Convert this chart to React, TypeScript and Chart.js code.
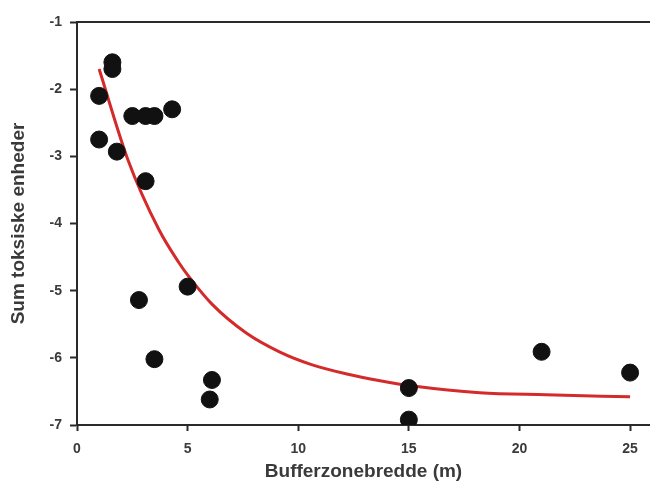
import React, { useEffect, useRef } from "react";
import { Chart, registerables } from "chart.js";

Chart.register(...registerables);

// Observed data: buffer zone width (m) vs. sum of toxic units
const pointX = [1, 1, 1.6, 1.6, 1.8, 2.5, 3.1, 3.5, 4.3, 3.1, 2.8, 5.0, 3.5, 6.1, 6.0, 15, 15, 21, 25];
const pointY = [-2.1, -2.75, -1.6, -1.7, -2.93, -2.4, -2.4, -2.4, -2.3, -3.37, -5.14, -4.94, -6.02, -6.33, -6.62, -6.45, -6.92, -5.91, -6.22];

// Fitted curve
const curveX = [1, 2.3, 3.7, 4.6, 5.1, 6.1, 7.65, 9.15, 10.6, 12.2, 13.7, 15.2, 18.2, 21.2, 25];
const curveY = [-1.7, -3.05, -4.09, -4.58, -4.81, -5.2, -5.63, -5.91, -6.1, -6.24, -6.34, -6.42, -6.52, -6.55, -6.58];

const xTicks = [0, 5, 10, 15, 20, 25];
const yTicks = [-7, -6, -5, -4, -3, -2, -1];

const xTitle = "Bufferzonebredde (m)";
const yTitle = "Sum toksiske enheder";

const axisColor = "#2a2a2a";
const textColor = "#3a3a3a";
const fontFamily = "'Liberation Sans', Arial, sans-serif";

const topBorder = {
  id: "topBorder",
  afterDraw(chart: any) {
    const { ctx, chartArea } = chart;
    ctx.save();
    ctx.strokeStyle = axisColor;
    ctx.lineWidth = 2;
    ctx.beginPath();
    ctx.moveTo(chartArea.left - 1, chartArea.top);
    ctx.lineTo(chartArea.right, chartArea.top);
    ctx.stroke();
    ctx.restore();
  },
};

export default function App() {
  const ref = useRef<HTMLCanvasElement>(null);
  useEffect(() => {
    if (!ref.current) return;
    const chart = new Chart(ref.current, {
      type: "scatter",
      data: {
        datasets: [
          {
            type: "line",
            data: curveX.map((x, i) => ({ x, y: curveY[i] })),
            borderColor: "#d42a2a",
            borderWidth: 3,
            pointRadius: 0,
            cubicInterpolationMode: "monotone",
            fill: false,
            order: 2,
          } as any,
          {
            data: pointX.map((x, i) => ({ x, y: pointY[i] })),
            backgroundColor: "#111111",
            borderColor: "#111111",
            pointRadius: 8.5,
            pointHoverRadius: 8.5,
            order: 1,
          },
        ],
      },
      options: {
        responsive: false,
        animation: false,
        layout: { autoPadding: false, padding: { top: 22, right: 0, left: 0, bottom: 0 } },
        plugins: { legend: { display: false }, tooltip: { enabled: false } },
        scales: {
          x: {
            type: "linear",
            min: 0,
            max: 25.9,
            afterBuildTicks: (s: any) => {
              s.ticks = xTicks.map((v) => ({ value: v }));
            },
            afterFit: (s: any) => {
              s.height = 58;
              s.paddingRight = 0;
              s.paddingLeft = 0;
            },
            ticks: {
              color: textColor,
              font: { family: fontFamily, size: 14, weight: "bold" },
              padding: 10,
              maxRotation: 0,
            },
            grid: {
              drawOnChartArea: false,
              tickLength: 6,
              tickWidth: 2,
              tickColor: axisColor,
            },
            border: { color: axisColor, width: 2 },
            title: {
              display: true,
              text: xTitle,
              color: textColor,
              font: { family: fontFamily, size: 19, weight: "bold" },
              padding: { top: 0, bottom: 0 },
            },
          },
          y: {
            type: "linear",
            min: -7,
            max: -1,
            afterBuildTicks: (s: any) => {
              s.ticks = yTicks.map((v) => ({ value: v }));
            },
            afterFit: (s: any) => {
              s.width = 77;
            },
            ticks: {
              color: textColor,
              font: { family: fontFamily, size: 14, weight: "bold" },
              padding: 8,
            },
            grid: {
              drawOnChartArea: false,
              tickLength: 7,
              tickWidth: 2,
              tickColor: axisColor,
            },
            border: { color: axisColor, width: 2 },
            title: {
              display: true,
              text: yTitle,
              color: textColor,
              font: { family: fontFamily, size: 19, weight: "bold" },
              padding: { top: 7, bottom: 0 },
            },
          },
        },
      },
      plugins: [topBorder],
    });
    return () => chart.destroy();
  }, []);
  return (
    <div style={{ position: "fixed", left: 0, top: 0, width: 650, height: 483, background: "#fff" }}>
      <canvas ref={ref} width={650} height={483} />
    </div>
  );
}
